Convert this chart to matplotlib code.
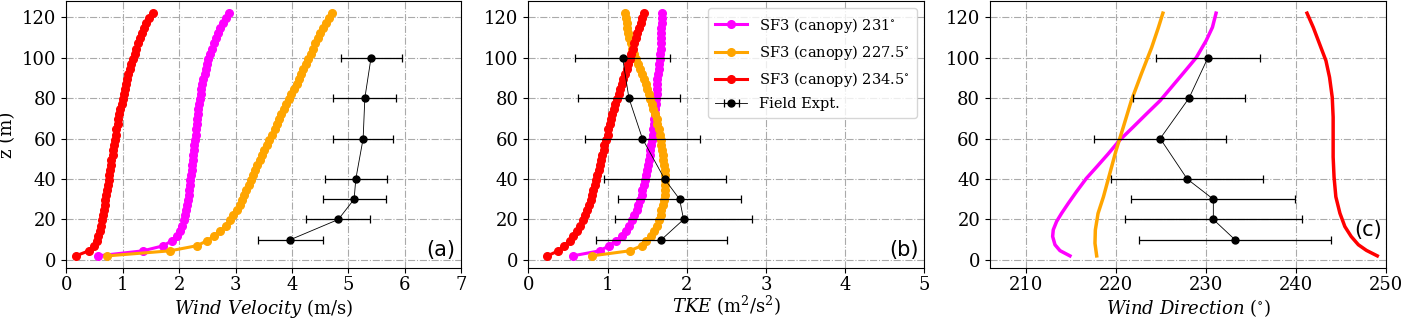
import matplotlib
matplotlib.use("Agg")
import matplotlib.pyplot as plt

plt.rcParams['font.family'] = 'DejaVu Serif'
plt.rcParams['mathtext.fontset'] = 'dejavuserif'

# heights of model levels (m)
z_model = [2, 4.5, 7, 9.5, 12, 14.5, 17, 19.5, 22, 24.5, 27, 29.5, 32, 34.5, 37, 39.5,
           42, 44.5, 47, 49.5, 52, 54.5, 57, 59.5, 62, 64.5, 67, 69.5, 72, 74.5, 77, 79.5,
           82, 84.5, 87, 89.5, 92, 94.5, 97, 99.5, 102, 104.5, 107, 109.5, 112, 114.5, 117,
           119.5, 122]

# wind velocity (m/s)
u_231 = [0.56, 1.36, 1.72, 1.87, 1.96, 2.01, 2.05, 2.08, 2.10, 2.12, 2.14, 2.15, 2.17, 2.18,
         2.19, 2.20, 2.21, 2.22, 2.23, 2.24, 2.25, 2.26, 2.27, 2.28, 2.29, 2.30, 2.31, 2.32,
         2.33, 2.34, 2.35, 2.37, 2.38, 2.39, 2.41, 2.43, 2.45, 2.47, 2.49, 2.52, 2.55, 2.58,
         2.61, 2.65, 2.69, 2.73, 2.78, 2.83, 2.89]
u_2275 = [0.73, 1.84, 2.31, 2.50, 2.62, 2.73, 2.83, 2.90, 2.96, 3.02, 3.07, 3.11, 3.15, 3.19,
          3.23, 3.27, 3.30, 3.34, 3.38, 3.43, 3.47, 3.51, 3.56, 3.60, 3.65, 3.69, 3.73, 3.77,
          3.81, 3.86, 3.90, 3.94, 3.99, 4.03, 4.08, 4.12, 4.16, 4.20, 4.24, 4.28, 4.33, 4.37,
          4.41, 4.46, 4.50, 4.55, 4.60, 4.65, 4.70]
u_2345 = [0.17, 0.40, 0.50, 0.54, 0.57, 0.59, 0.61, 0.63, 0.645, 0.66, 0.68, 0.69, 0.71, 0.72,
          0.74, 0.75, 0.76, 0.78, 0.79, 0.80, 0.82, 0.83, 0.85, 0.86, 0.88, 0.89, 0.91, 0.92,
          0.94, 0.96, 0.98, 1.00, 1.02, 1.04, 1.06, 1.08, 1.10, 1.13, 1.15, 1.18, 1.21, 1.24,
          1.27, 1.30, 1.34, 1.38, 1.42, 1.47, 1.53]

# TKE (m2/s2)
k_231 = [0.56, 0.90, 1.02, 1.11, 1.18, 1.23, 1.27, 1.31, 1.34, 1.37, 1.39, 1.41, 1.43, 1.44,
         1.46, 1.47, 1.49, 1.50, 1.51, 1.52, 1.53, 1.54, 1.55, 1.56, 1.57, 1.58, 1.59, 1.59,
         1.60, 1.60, 1.61, 1.61, 1.62, 1.62, 1.63, 1.63, 1.64, 1.65, 1.65, 1.66, 1.66, 1.67,
         1.67, 1.68, 1.68, 1.68, 1.69, 1.69, 1.69]
k_2275 = [0.80, 1.28, 1.43, 1.49, 1.55, 1.59, 1.62, 1.65, 1.67, 1.68, 1.70, 1.71, 1.72, 1.72,
          1.73, 1.73, 1.73, 1.72, 1.71, 1.70, 1.70, 1.69, 1.68, 1.67, 1.66, 1.65, 1.63, 1.62,
          1.60, 1.58, 1.56, 1.54, 1.52, 1.50, 1.48, 1.46, 1.44, 1.41, 1.38, 1.36, 1.34, 1.31,
          1.29, 1.27, 1.26, 1.25, 1.24, 1.23, 1.22]
k_2345 = [0.24, 0.38, 0.45, 0.52, 0.57, 0.61, 0.65, 0.69, 0.72, 0.74, 0.77, 0.79, 0.81, 0.82,
          0.84, 0.86, 0.87, 0.89, 0.90, 0.92, 0.93, 0.95, 0.96, 0.98, 1.00, 1.01, 1.03, 1.04,
          1.06, 1.08, 1.10, 1.12, 1.14, 1.16, 1.18, 1.20, 1.22, 1.24, 1.26, 1.28, 1.30, 1.32,
          1.34, 1.36, 1.37, 1.40, 1.42, 1.44, 1.46]

# wind direction profiles (deg)
z_dir_231 = [2, 4.6, 7.5, 11.6, 14.9, 19, 23.1, 28, 33.7, 40.3, 46, 52.3, 59.2, 65.7, 72.3,
             78.8, 84.6, 92, 100, 108.4, 115, 122]
d_231 = [214.88, 213.77, 213.22, 212.96, 213.03, 213.4, 213.96, 214.7, 215.6, 216.7, 217.85,
         219.1, 220.4, 221.9, 223.4, 224.9, 226.0, 227.4, 228.9, 230.0, 230.7, 231.1]
z_dir_2275 = [2, 8.2, 14.8, 23, 31.2, 41, 54.1, 65.6, 78.8, 91.9, 105, 114.9, 122]
d_2275 = [217.85, 217.66, 217.7, 218.0, 218.6, 219.2, 220.0, 220.8, 221.7, 222.8, 223.95,
          224.7, 225.2]
z_dir_2345 = [2, 4.7, 7.5, 11.6, 16.5, 23.1, 31.2, 41, 50.9, 60.7, 70.6, 80.4, 90.3, 98.5,
              106.7, 114.9, 122]
d_2345 = [249.0, 247.8, 246.9, 246.1, 245.4, 244.85, 244.4, 244.2, 244.1, 244.1, 244.1, 244.0,
          243.7, 243.3, 242.6, 241.9, 241.2]

# field experiment
z_obs = [10, 20, 30, 40, 60, 80, 100]
u_obs = [3.97, 4.82, 5.10, 5.13, 5.26, 5.29, 5.40]
u_err = [0.58, 0.57, 0.56, 0.55, 0.53, 0.56, 0.54]
k_obs = [1.68, 1.96, 1.91, 1.72, 1.44, 1.27, 1.19]
k_err = [0.83, 0.87, 0.78, 0.77, 0.73, 0.64, 0.60]
d_obs = [233.2, 230.8, 230.8, 227.9, 224.9, 228.1, 230.2]
d_err = [10.7, 9.8, 9.1, 8.45, 7.35, 6.2, 5.8]

labels = ['SF3 (canopy) 231$^{\\circ}$', 'SF3 (canopy) 227.5$^{\\circ}$',
          'SF3 (canopy) 234.5$^{\\circ}$', 'Field Expt.']
colors = ['#ff00ff', '#ffa500', '#ff0000']

fig = plt.figure(figsize=(14.01, 3.18), dpi=100)
axes = [fig.add_axes([0.0473, 0.1572, 0.2820, 0.8396]),
        fig.add_axes([0.3771, 0.1572, 0.2827, 0.8396]),
        fig.add_axes([0.7066, 0.1572, 0.2829, 0.8396])]

lw, ms = 2.2, 5.5
obs_kw = dict(fmt='o-', color='black', lw=0.6, ms=5, capsize=3.2, elinewidth=0.9, capthick=0.9)
lab_fs = 13

ax = axes[0]
for vals, c, lab in zip([u_231, u_2275, u_2345], colors, labels):
    ax.plot(vals, z_model, 'o-', color=c, lw=lw, ms=ms, label=lab)
ax.errorbar(u_obs, z_obs, xerr=u_err, label=labels[3], **obs_kw)
ax.set_xlim(0, 7)
ax.set_xlabel('$Wind\\ Velocity$ (m/s)', fontsize=lab_fs, labelpad=2)
ax.set_ylabel('z (m)', fontsize=lab_fs)
ax.text(0.985, 0.03, '(a)', transform=ax.transAxes, ha='right', va='bottom',
        fontsize=15, family='DejaVu Sans')

ax = axes[1]
for vals, c, lab in zip([k_231, k_2275, k_2345], colors, labels):
    ax.plot(vals, z_model, 'o-', color=c, lw=lw, ms=ms, label=lab)
ax.errorbar(k_obs, z_obs, xerr=k_err, label=labels[3], **obs_kw)
ax.set_xlim(0, 5)
ax.set_xlabel('$TKE$ (m$^2$/s$^2$)', fontsize=lab_fs, labelpad=0)
ax.text(0.985, 0.03, '(b)', transform=ax.transAxes, ha='right', va='bottom',
        fontsize=15, family='DejaVu Sans')
ax.legend(loc='upper right', fontsize=10.5, numpoints=1, handlelength=2.2,
          labelspacing=0.55, borderpad=0.5)

ax = axes[2]
ax.plot(d_231, z_dir_231, '-', color=colors[0], lw=2.5)
ax.plot(d_2275, z_dir_2275, '-', color=colors[1], lw=2.5)
ax.plot(d_2345, z_dir_2345, '-', color=colors[2], lw=2.5)
ax.errorbar(d_obs, z_obs, xerr=d_err, **obs_kw)
ax.set_xlim(206, 250)
ax.set_xticks([210, 220, 230, 240, 250])
ax.set_xlabel('$Wind\\ Direction$ ($^{\\circ}$)', fontsize=lab_fs, labelpad=2)
ax.text(0.99, 0.105, '(c)', transform=ax.transAxes, ha='right', va='bottom',
        fontsize=15, family='DejaVu Sans')

for ax in axes:
    ax.set_ylim(-4, 128)
    ax.set_yticks([0, 20, 40, 60, 80, 100, 120])
    ax.grid(True, linestyle='-.', color='#aaaaaa', lw=0.8)
    ax.set_axisbelow(True)
    ax.tick_params(labelsize=13)
    ax.tick_params(axis='x', pad=2.5)

fig.savefig('out.png', dpi=100)
